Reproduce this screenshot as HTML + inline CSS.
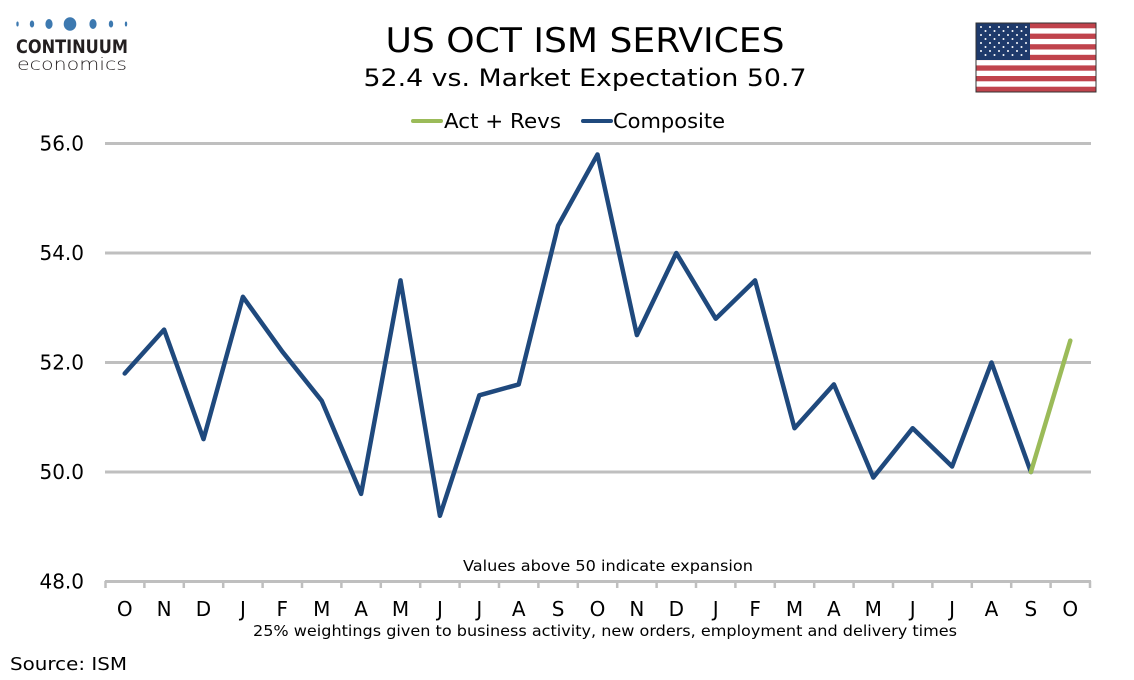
<!DOCTYPE html>
<html><head><meta charset="utf-8"><style>
html,body{margin:0;padding:0;background:#fff;}
svg{display:block;}
text{font-family:"DejaVu Sans","Liberation Sans",sans-serif;fill:#000;}
</style></head><body>
<svg width="1134" height="680" viewBox="0 0 1134 680" xmlns="http://www.w3.org/2000/svg">
<rect width="1134" height="680" fill="#fff"/>
<!-- logo -->
<g fill="#3d79b0">
<ellipse cx="17.5" cy="24" rx="1.2" ry="2.5"/>
<ellipse cx="32" cy="24" rx="2.2" ry="3.5"/>
<ellipse cx="49" cy="24" rx="3.6" ry="5"/>
<ellipse cx="70" cy="24" rx="6.3" ry="6.8"/>
<ellipse cx="93" cy="24" rx="3.6" ry="5"/>
<ellipse cx="111" cy="24" rx="2.2" ry="3.5"/>
<ellipse cx="126" cy="24" rx="1.2" ry="2.5"/>
</g>
<text x="16" y="53" font-size="19" font-weight="bold" textLength="112" lengthAdjust="spacingAndGlyphs" style="fill:#231f20">CONTINUUM</text>
<text x="17" y="70" font-size="17" textLength="110" lengthAdjust="spacingAndGlyphs" style="fill:#231f20;font-weight:300">economics</text>
<!-- title -->
<text x="585" y="52" font-size="34" text-anchor="middle" textLength="399" lengthAdjust="spacingAndGlyphs">US OCT ISM SERVICES</text>
<text x="585" y="86" font-size="24" text-anchor="middle" textLength="443" lengthAdjust="spacingAndGlyphs">52.4 vs. Market Expectation 50.7</text>
<!-- legend -->
<line x1="413" y1="121" x2="441" y2="121" stroke="#9bbb59" stroke-width="4" stroke-linecap="round"/>
<text x="444" y="128" font-size="20" textLength="117" lengthAdjust="spacingAndGlyphs">Act + Revs</text>
<line x1="583" y1="121" x2="611" y2="121" stroke="#1f497d" stroke-width="4" stroke-linecap="round"/>
<text x="613" y="128" font-size="20" textLength="112" lengthAdjust="spacingAndGlyphs">Composite</text>
<!-- flag -->
<g>
<rect x="976" y="23" width="120" height="69" fill="#fff"/>
<g fill="#c0434c">
<rect x="976" y="23" width="120" height="5.3"/>
<rect x="976" y="33.6" width="120" height="5.3"/>
<rect x="976" y="44.2" width="120" height="5.3"/>
<rect x="976" y="54.8" width="120" height="5.3"/>
<rect x="976" y="65.4" width="120" height="5.3"/>
<rect x="976" y="76" width="120" height="5.3"/>
<rect x="976" y="86.7" width="120" height="5.3"/>
</g>
<rect x="976" y="23" width="54" height="37" fill="#1e3a6b"/>
<g fill="#fff">
<circle cx="981" cy="27" r="1"/><circle cx="990" cy="27" r="1"/><circle cx="999" cy="27" r="1"/><circle cx="1008" cy="27" r="1"/><circle cx="1017" cy="27" r="1"/><circle cx="1026" cy="27" r="1"/>
<circle cx="985.5" cy="31" r="1"/><circle cx="994.5" cy="31" r="1"/><circle cx="1003.5" cy="31" r="1"/><circle cx="1012.5" cy="31" r="1"/><circle cx="1021.5" cy="31" r="1"/>
<circle cx="981" cy="35" r="1"/><circle cx="990" cy="35" r="1"/><circle cx="999" cy="35" r="1"/><circle cx="1008" cy="35" r="1"/><circle cx="1017" cy="35" r="1"/><circle cx="1026" cy="35" r="1"/>
<circle cx="985.5" cy="39" r="1"/><circle cx="994.5" cy="39" r="1"/><circle cx="1003.5" cy="39" r="1"/><circle cx="1012.5" cy="39" r="1"/><circle cx="1021.5" cy="39" r="1"/>
<circle cx="981" cy="43" r="1"/><circle cx="990" cy="43" r="1"/><circle cx="999" cy="43" r="1"/><circle cx="1008" cy="43" r="1"/><circle cx="1017" cy="43" r="1"/><circle cx="1026" cy="43" r="1"/>
<circle cx="985.5" cy="47" r="1"/><circle cx="994.5" cy="47" r="1"/><circle cx="1003.5" cy="47" r="1"/><circle cx="1012.5" cy="47" r="1"/><circle cx="1021.5" cy="47" r="1"/>
<circle cx="981" cy="51" r="1"/><circle cx="990" cy="51" r="1"/><circle cx="999" cy="51" r="1"/><circle cx="1008" cy="51" r="1"/><circle cx="1017" cy="51" r="1"/><circle cx="1026" cy="51" r="1"/>
<circle cx="985.5" cy="55" r="1"/><circle cx="994.5" cy="55" r="1"/><circle cx="1003.5" cy="55" r="1"/><circle cx="1012.5" cy="55" r="1"/><circle cx="1021.5" cy="55" r="1"/>
</g>
<rect x="976" y="23" width="120" height="69" fill="none" stroke="#333" stroke-width="1"/>
</g>
<!-- gridlines -->
<g stroke="#bfbfbf" stroke-width="3">
<line x1="105" y1="143.5" x2="1091" y2="143.5"/>
<line x1="105" y1="253" x2="1091" y2="253"/>
<line x1="105" y1="362.5" x2="1091" y2="362.5"/>
<line x1="105" y1="472" x2="1091" y2="472"/>
<line x1="105" y1="581.5" x2="1091" y2="581.5"/>
</g>
<g stroke="#bfbfbf" stroke-width="2.5">
<line x1="105.5" y1="581" x2="105.5" y2="588"/><line x1="144.4" y1="581" x2="144.4" y2="588"/><line x1="183.8" y1="581" x2="183.8" y2="588"/><line x1="223.2" y1="581" x2="223.2" y2="588"/><line x1="262.6" y1="581" x2="262.6" y2="588"/><line x1="302" y1="581" x2="302" y2="588"/><line x1="341.4" y1="581" x2="341.4" y2="588"/><line x1="380.8" y1="581" x2="380.8" y2="588"/><line x1="420.2" y1="581" x2="420.2" y2="588"/><line x1="459.6" y1="581" x2="459.6" y2="588"/><line x1="499" y1="581" x2="499" y2="588"/><line x1="538.4" y1="581" x2="538.4" y2="588"/><line x1="577.8" y1="581" x2="577.8" y2="588"/><line x1="617.2" y1="581" x2="617.2" y2="588"/><line x1="656.6" y1="581" x2="656.6" y2="588"/><line x1="696" y1="581" x2="696" y2="588"/><line x1="735.4" y1="581" x2="735.4" y2="588"/><line x1="774.8" y1="581" x2="774.8" y2="588"/><line x1="814.2" y1="581" x2="814.2" y2="588"/><line x1="853.6" y1="581" x2="853.6" y2="588"/><line x1="893" y1="581" x2="893" y2="588"/><line x1="932.4" y1="581" x2="932.4" y2="588"/><line x1="971.8" y1="581" x2="971.8" y2="588"/><line x1="1011.2" y1="581" x2="1011.2" y2="588"/><line x1="1050.6" y1="581" x2="1050.6" y2="588"/><line x1="1090" y1="581" x2="1090" y2="588"/>
</g>
<!-- y labels -->
<g font-size="20" text-anchor="end">
<text x="84" y="150.5">56.0</text>
<text x="84" y="260">54.0</text>
<text x="84" y="369.5">52.0</text>
<text x="84" y="479">50.0</text>
<text x="84" y="588.5">48.0</text>
</g>
<!-- x labels -->
<g font-size="20" text-anchor="middle">
<text x="124.7" y="616">O</text><text x="164.1" y="616">N</text><text x="203.5" y="616">D</text><text x="242.9" y="616">J</text><text x="282.3" y="616">F</text><text x="321.7" y="616">M</text><text x="361.1" y="616">A</text><text x="400.5" y="616">M</text><text x="439.9" y="616">J</text><text x="479.3" y="616">J</text><text x="518.7" y="616">A</text><text x="558.1" y="616">S</text><text x="597.5" y="616">O</text><text x="636.9" y="616">N</text><text x="676.3" y="616">D</text><text x="715.7" y="616">J</text><text x="755.1" y="616">F</text><text x="794.5" y="616">M</text><text x="833.9" y="616">A</text><text x="873.3" y="616">M</text><text x="912.7" y="616">J</text><text x="952.1" y="616">J</text><text x="991.5" y="616">A</text><text x="1030.9" y="616">S</text><text x="1070.3" y="616">O</text>
</g>
<!-- series -->
<polyline fill="none" stroke="#1f497d" stroke-width="4.5" stroke-linejoin="round" stroke-linecap="round"
points="124.7,373.45 164.1,329.65 203.5,439.15 242.9,296.8 282.3,351.55 321.7,400.8 361.1,493.9 400.5,280.4 439.9,515.8 479.3,395.35 518.7,384.4 558.1,225.6 597.5,154.45 636.9,335.1 676.3,253 715.7,318.7 755.1,280.4 794.5,428.2 833.9,384.4 873.3,477.5 912.7,428.2 952.1,466.5 991.5,362.5 1030.9,472"/>
<polyline fill="none" stroke="#9bbb59" stroke-width="4.5" stroke-linejoin="round" stroke-linecap="round"
points="1030.9,472 1070.3,340.6"/>
<!-- annotations -->
<text x="608" y="571" font-size="15" text-anchor="middle" textLength="290" lengthAdjust="spacingAndGlyphs">Values above 50 indicate expansion</text>
<text x="605" y="636" font-size="15" text-anchor="middle" textLength="704" lengthAdjust="spacingAndGlyphs">25% weightings given to business activity, new orders, employment and delivery times</text>
<text x="10" y="670" font-size="18" textLength="117" lengthAdjust="spacingAndGlyphs">Source: ISM</text>
</svg>
</body></html>
